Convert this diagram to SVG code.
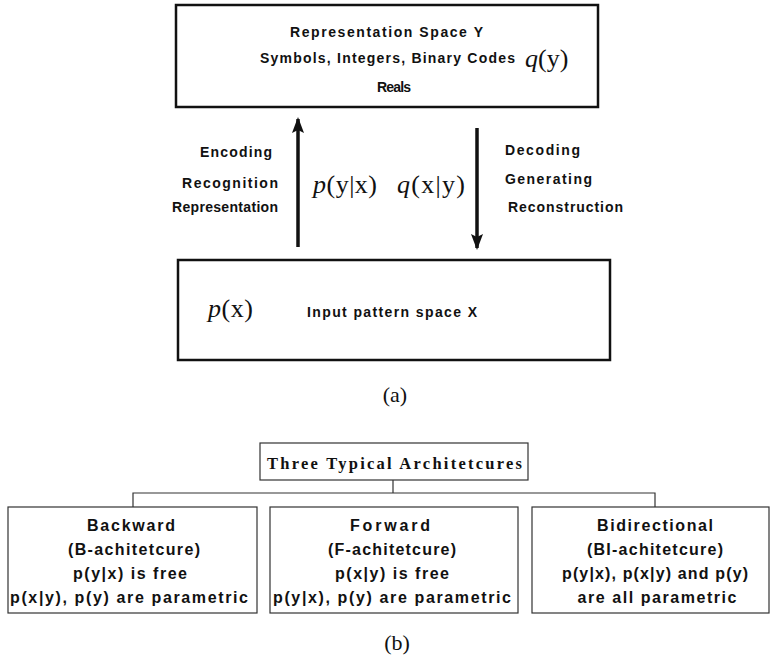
<svg xmlns="http://www.w3.org/2000/svg" width="771" height="657" viewBox="0 0 771 657">
<style>
.lbl{font-family:"Liberation Sans",Arial,sans-serif;font-weight:bold;font-size:14px;fill:#111}
.math{font-family:"Liberation Serif","Times New Roman",serif;font-size:26px;fill:#111}
.cap{font-family:"Liberation Serif","Times New Roman",serif;font-size:22px;fill:#111}
.ttl{font-family:"Liberation Serif","Times New Roman",serif;font-weight:bold;font-size:16.5px;fill:#111}
.box{font-family:"Liberation Sans",Arial,sans-serif;font-weight:bold;font-size:16px;fill:#111}
.big{fill:#fff;stroke:#111;stroke-width:2.5}
.sm{fill:#fff;stroke:#333;stroke-width:1.2}
.con{fill:none;stroke:#333;stroke-width:1.2}
.shaft{stroke:#111;stroke-width:3.5}
</style>
<defs>
<marker id="ah" viewBox="0 0 16 12" refX="14" refY="6" markerWidth="16" markerHeight="12" markerUnits="userSpaceOnUse" orient="auto">
<path d="M16,6 L0,0 L3,6 L0,12 Z" fill="#111"/>
</marker>
</defs>
<g id="rep-space">
<rect class="big" x="176" y="5" width="422" height="102"/>
<text class="lbl" x="290" y="37" textLength="193" lengthAdjust="spacing">Representation Space  Y</text>
<text class="lbl" x="260" y="63" textLength="255" lengthAdjust="spacing">Symbols, Integers, Binary Codes</text>
<text class="lbl" x="377" y="92" textLength="34" lengthAdjust="spacing">Reals</text>
<text class="math" x="525" y="67" font-size="28"><tspan font-style="italic">q</tspan>(y)</text>
</g>
<g id="input-space">
<rect class="big" x="178" y="260" width="432" height="100"/>
<text class="math" x="208" y="317" textLength="45" lengthAdjust="spacing"><tspan font-style="italic">p</tspan>(x)</text>
<text class="lbl" x="307" y="317" textLength="170" lengthAdjust="spacing">Input pattern space X</text>
</g>
<g id="connectors">
<line class="shaft" x1="298" y1="247" x2="298" y2="119" marker-end="url(#ah)"/>
<line class="shaft" x1="477" y1="128" x2="477" y2="248" marker-end="url(#ah)"/>
<path class="con" d="M393,480 V493 M133,507 V493 H655 V507"/>
</g>
<g id="enc-labels">
<text class="lbl" x="200" y="157" textLength="72" lengthAdjust="spacing">Encoding</text>
<text class="lbl" x="182" y="188" textLength="96" lengthAdjust="spacing">Recognition</text>
<text class="lbl" x="172" y="212" textLength="106" lengthAdjust="spacing">Representation</text>
<text class="math" x="313" y="193" textLength="64" lengthAdjust="spacing"><tspan font-style="italic">p</tspan>(y|x)</text>
<text class="math" x="397" y="193" textLength="68" lengthAdjust="spacing"><tspan font-style="italic">q</tspan>(x|y)</text>
</g>
<g id="dec-labels">
<text class="lbl" x="505" y="155" textLength="75" lengthAdjust="spacing">Decoding</text>
<text class="lbl" x="505" y="184" textLength="87" lengthAdjust="spacing">Generating</text>
<text class="lbl" x="508" y="212" textLength="115" lengthAdjust="spacing">Reconstruction</text>
</g>
<text class="cap" x="395" y="402" text-anchor="middle">(a)</text>
<g id="three">
<rect class="sm" x="260" y="443" width="268" height="37"/>
<text class="ttl" x="267" y="469" textLength="255" lengthAdjust="spacing">Three Typical Architetcures</text>
</g>
<g id="backward">
<rect class="sm" x="8" y="507" width="249" height="106"/>
<text class="box" x="131" y="531" text-anchor="middle" textLength="88" lengthAdjust="spacing">Backward</text>
<text class="box" x="134" y="555" text-anchor="middle" textLength="132" lengthAdjust="spacing">(B-achitetcure)</text>
<text class="box" x="130" y="579" text-anchor="middle" textLength="114" lengthAdjust="spacing">p(y|x) is free</text>
<text class="box" x="129" y="603" text-anchor="middle" textLength="238" lengthAdjust="spacing">p(x|y), p(y) are parametric</text>
</g>
<g id="forward">
<rect class="sm" x="270" y="507" width="248" height="106"/>
<text class="box" x="390" y="531" text-anchor="middle" textLength="80" lengthAdjust="spacing">Forward</text>
<text class="box" x="392" y="555" text-anchor="middle" textLength="128" lengthAdjust="spacing">(F-achitetcure)</text>
<text class="box" x="392" y="579" text-anchor="middle" textLength="114" lengthAdjust="spacing">p(x|y) is free</text>
<text class="box" x="392" y="603" text-anchor="middle" textLength="238" lengthAdjust="spacing">p(y|x), p(y) are parametric</text>
</g>
<g id="bidirectional">
<rect class="sm" x="532" y="507" width="237" height="106"/>
<text class="box" x="655" y="531" text-anchor="middle" textLength="116" lengthAdjust="spacing">Bidirectional</text>
<text class="box" x="655" y="555" text-anchor="middle" textLength="136" lengthAdjust="spacing">(BI-achitetcure)</text>
<text class="box" x="655" y="579" text-anchor="middle" textLength="186" lengthAdjust="spacing">p(y|x), p(x|y) and p(y)</text>
<text class="box" x="657" y="603" text-anchor="middle" textLength="159" lengthAdjust="spacing">are all parametric</text>
</g>
<text class="cap" x="397" y="650" text-anchor="middle">(b)</text>
</svg>
